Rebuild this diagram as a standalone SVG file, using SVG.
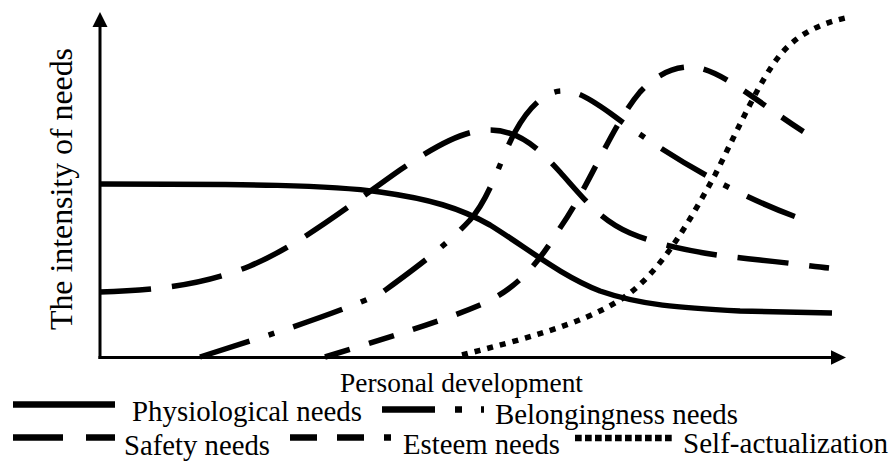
<svg xmlns="http://www.w3.org/2000/svg" width="891" height="461" viewBox="0 0 891 461">
<style>
  text { font-family: "Liberation Serif", "Times New Roman", serif; fill: #000; }
  .lbl { font-size: 29px; }
  .curve { fill: none; stroke: #000; stroke-width: 5.5; stroke-linecap: butt; }
  .leg { fill: none; stroke: #000; stroke-width: 6.5; stroke-linecap: butt; }
  .axis { fill: none; stroke: #000; stroke-width: 3; }
  .phys { }
  .safety { stroke-dasharray: 51 21; }
  .belong { stroke-dasharray: 52 20 6 20; }
  .esteem { stroke-dasharray: 26 20; }
  .self { stroke-dasharray: 6 7; }
</style>
<rect width="891" height="461" fill="#fff"/>

<g id="axes">
  <line class="axis" x1="100" y1="359" x2="100" y2="24"/>
  <polygon points="100,12 92.5,27 107.5,27" fill="#000"/>
  <line class="axis" x1="98.5" y1="357.5" x2="833" y2="357.5"/>
  <polygon points="846,357.5 831,350.3 831,364.7" fill="#000"/>
</g>

<g id="curves">
  <path id="curve-physiological" class="curve phys" d="M100,184 C250,184 330,185 380,192 C430,199 460,208 490,225 C530,250 560,275 600,291 C640,305 680,308 740,311 L832,313"/>
  <path id="curve-safety" class="curve safety" d="M100,292 C170,290 210,282 250,266 C300,245 350,205 400,170 C440,143 465,130 490,130 C520,130 540,150 560,172 C585,200 600,220 630,233 C670,250 720,256 760,260 C790,263 810,266 829,268"/>
  <path id="curve-belongingness" class="curve belong" d="M200,357 C260,338 330,316 380,294 C410,272 445,247 470,220 C490,198 500,160 515,132 C528,108 545,91 562,91 C578,91 590,99 610,113 C660,150 730,195 813,223"/>
  <path id="curve-esteem" class="curve esteem" d="M325,357 C380,340 440,322 480,305 C520,288 540,260 560,228 C590,185 612,125 640,92 C655,76 672,67 690,67 C720,67 760,105 812,137"/>
  <path id="curve-self" class="curve self" d="M462,355 C520,340 580,325 620,300 C660,275 690,220 715,175 C740,125 760,80 780,55 C795,37 815,25 845,18"/>
</g>

<g id="axis-labels">
  <text transform="translate(72,189) rotate(-90)" text-anchor="middle" font-size="32" textLength="282" lengthAdjust="spacingAndGlyphs">The intensity of needs</text>
  <text x="340" y="392" font-size="27.5" textLength="243" lengthAdjust="spacingAndGlyphs">Personal development</text>
</g>

<g id="legend">
  <g id="legend-physiological">
    <line class="leg" x1="13" y1="404.5" x2="115" y2="404.5"/>
    <text class="lbl" x="132" y="421" textLength="230" lengthAdjust="spacingAndGlyphs">Physiological needs</text>
  </g>
  <g id="legend-belongingness">
    <line class="leg" x1="382" y1="409.5" x2="484" y2="409.5" style="stroke-dasharray:53 20 7 19"/>
    <text class="lbl" x="495" y="424" textLength="243" lengthAdjust="spacingAndGlyphs">Belongingness needs</text>
  </g>
  <g id="legend-safety">
    <line class="leg" x1="13" y1="437.5" x2="115" y2="437.5" style="stroke-dasharray:50 23"/>
    <text class="lbl" x="124" y="455" textLength="146" lengthAdjust="spacingAndGlyphs">Safety needs</text>
  </g>
  <g id="legend-esteem">
    <line class="leg" x1="290" y1="437.5" x2="391" y2="437.5" style="stroke-dasharray:27 20"/>
    <text class="lbl" x="403" y="454" textLength="157" lengthAdjust="spacingAndGlyphs">Esteem needs</text>
  </g>
  <g id="legend-self">
    <line class="leg" x1="575" y1="438" x2="675" y2="438" style="stroke-dasharray:6.7 3.3"/>
    <text class="lbl" x="683" y="453" textLength="205" lengthAdjust="spacingAndGlyphs">Self-actualization</text>
  </g>
</g>
</svg>
